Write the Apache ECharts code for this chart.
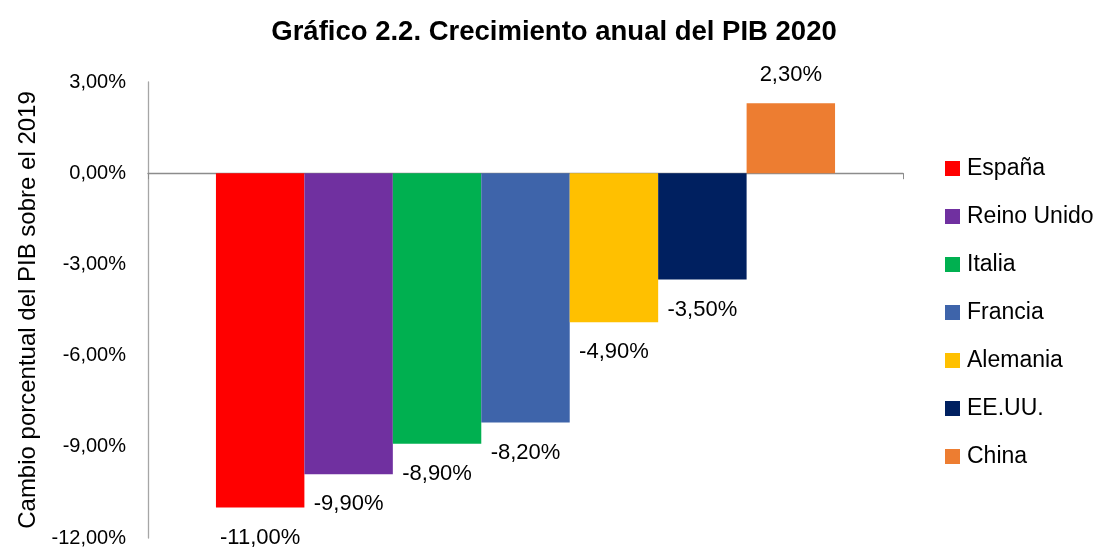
<!DOCTYPE html>
<html>
<head>
<meta charset="utf-8">
<script src="https://cdn.jsdelivr.net/npm/echarts@6/dist/echarts.min.js"></script>
<style>
html,body{margin:0;padding:0;background:#fff;}
#chart{width:1102px;height:549px;}
</style>
</head>
<body>
<div id="chart"></div>
<script>
const countries = ['España', 'Reino Unido', 'Italia', 'Francia', 'Alemania', 'EE.UU.', 'China'];
const growth = [-11.0, -9.9, -8.9, -8.2, -4.9, -3.5, 2.3];
const colors = ['#FF0000', '#7030A0', '#00B050', '#3E64AA', '#FFC000', '#002060', '#ED7D31'];
const category = ['2020'];
const yMin = -12, yMax = 3, yStep = 3;

const FONT = 'Liberation Sans';
const fmt = v => v.toFixed(2).replace('.', ',') + '%';

const series = countries.map((name, i) => ({
  name: name,
  type: 'bar',
  data: [growth[i]],
  barGap: '0%',
  barCategoryGap: '18%',
  itemStyle: { color: colors[i] },
  label: {
    show: true,
    position: growth[i] < 0 ? 'bottom' : 'top',
    distance: growth[i] < 0 ? 19 : 17,
    formatter: p => fmt(p.value),
    fontFamily: FONT,
    fontSize: 22,
    color: '#000'
  }
}));

const chart = echarts.init(document.getElementById('chart'), null, { renderer: 'canvas' });
chart.setOption({
  animation: false,
  backgroundColor: '#fff',
  title: {
    text: 'Gráfico 2.2. Crecimiento anual del PIB 2020',
    left: 549,
    textAlign: 'center',
    top: 13,
    textStyle: { fontFamily: FONT, fontSize: 27.5, fontWeight: 'bold', color: '#000' }
  },
  legend: {
    orient: 'vertical',
    left: 945,
    top: 157,
    padding: 0,
    itemWidth: 15,
    itemHeight: 15,
    itemGap: 25,
    icon: 'rect',
    textStyle: { fontFamily: FONT, fontSize: 23, color: '#000', lineHeight: 23, padding: [0, 0, 0, 2] },
    data: countries
  },
  grid: { left: 148, right: 199, top: 82, bottom: 11, containLabel: false },
  xAxis: {
    type: 'category',
    data: category,
    axisLine: { onZero: true, lineStyle: { color: '#8c8c8c', width: 1.3 } },
    axisTick: { show: true, length: 6, inside: false, lineStyle: { color: '#8c8c8c' } },
    axisLabel: { show: false }
  },
  yAxis: {
    type: 'value',
    min: yMin,
    max: yMax,
    interval: yStep,
    name: 'Cambio porcentual del PIB sobre el 2019',
    nameLocation: 'middle',
    nameGap: 106,
    nameTextStyle: { fontFamily: FONT, fontSize: 24, color: '#000' },
    axisLine: { show: true, lineStyle: { color: '#a6a6a6', width: 1.3 } },
    axisTick: { show: false },
    splitLine: { show: false },
    axisLabel: {
      formatter: v => fmt(v),
      fontFamily: FONT,
      fontSize: 20,
      color: '#000',
      margin: 22
    }
  },
  series: series
});
</script>
</body>
</html>
